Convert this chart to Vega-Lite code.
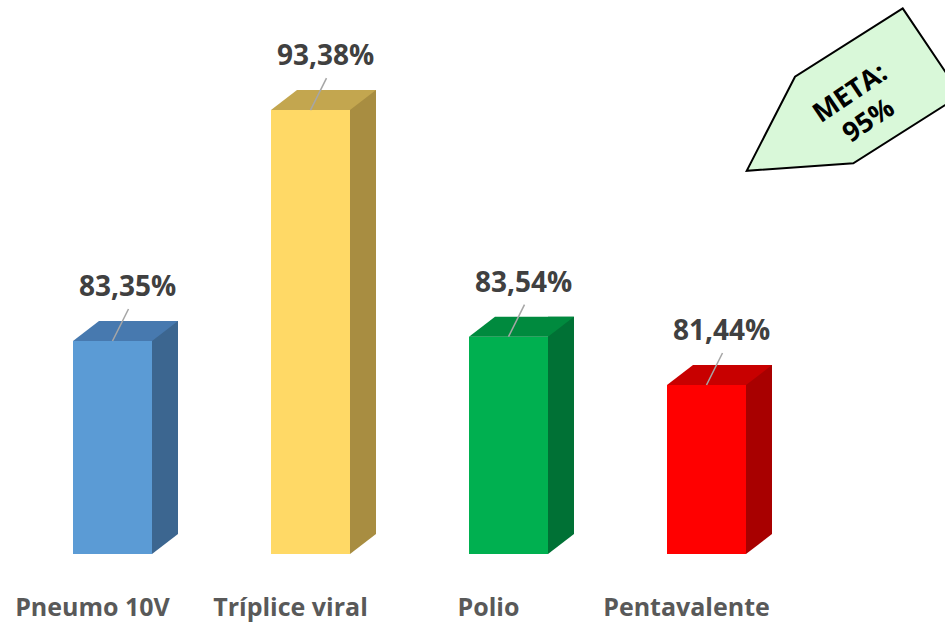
{
  "$schema": "https://vega.github.io/schema/vega-lite/v6.json",
  "width": 945,
  "height": 554,
  "autosize": "none",
  "padding": {"left": 0, "top": 0, "right": 0, "bottom": 68},
  "background": "white",
  "config": {
    "view": {"stroke": null},
    "locale": {"number": {"decimal": ",", "thousands": ".", "grouping": [3], "currency": ["R$", ""]}}
  },
  "datasets": {
    "vacinas": [
      {"vacina": "Pneumo 10V", "cobertura": 0.8335},
      {"vacina": "Tríplice viral", "cobertura": 0.9338},
      {"vacina": "Polio", "cobertura": 0.8354},
      {"vacina": "Pentavalente", "cobertura": 0.8144}
    ],
    "meta": [
      {"vacina": "META", "rotulo": "META:\n95%", "meta": 0.95}
    ]
  },
  "data": {"name": "vacinas"},
  "encoding": {
    "x": {
      "field": "vacina",
      "type": "nominal",
      "sort": null,
      "scale": {
        "domain": ["Pneumo 10V", "Tríplice viral", "Polio", "Pentavalente", "META"],
        "range": [13.5, 1003.5],
        "paddingInner": 0,
        "paddingOuter": 0
      },
      "axis": {
        "values": ["Pneumo 10V", "Tríplice viral", "Polio", "Pentavalente"],
        "title": null,
        "domain": false,
        "ticks": false,
        "grid": false,
        "labelAngle": 0,
        "labelOverlap": false,
        "labelFont": "Open Sans",
        "labelFontWeight": "bold",
        "labelFontSize": 25,
        "labelColor": "#595959",
        "labelOffset": -20,
        "labelPadding": 61,
        "labelBaseline": "alphabetic"
      }
    },
    "y": {
      "field": "cobertura",
      "type": "quantitative",
      "scale": {"domain": [0.741, 0.9816], "nice": false, "zero": false},
      "axis": null
    }
  },
  "layer": [
    {
      "mark": {"type": "bar", "width": 26, "xOffset": 52.5, "yOffset": -20, "y2Offset": -20},
      "encoding": {
        "y2": {"datum": 0.741},
        "fill": {
          "field": "vacina", "type": "nominal", "legend": null,
          "scale": {"domain": ["Pneumo 10V", "Tríplice viral", "Polio", "Pentavalente"], "range": ["#3C6690", "#A88D41", "#007135", "#A80000"]}
        }
      }
    },
    {
      "mark": {"type": "point", "shape": "M39.5,0 L65.5,-20 L65.5,-21 L39.5,-21 Z", "size": 4, "filled": true, "opacity": 1, "strokeWidth": 0},
      "encoding": {
        "y": {"datum": 0.741},
        "fill": {
          "field": "vacina", "type": "nominal", "legend": null,
          "scale": {"domain": ["Pneumo 10V", "Tríplice viral", "Polio", "Pentavalente"], "range": ["#3C6690", "#A88D41", "#007135", "#A80000"]}
        }
      }
    },
    {
      "mark": {"type": "bar", "width": 79},
      "encoding": {
        "y2": {"datum": 0.741},
        "fill": {
          "field": "vacina", "type": "nominal", "legend": null,
          "scale": {"domain": ["Pneumo 10V", "Tríplice viral", "Polio", "Pentavalente"], "range": ["#5B9BD5", "#FFD966", "#00B050", "#FF0000"]}
        }
      }
    },
    {
      "mark": {"type": "point", "shape": "M-39.5,0 L39.5,0 L65.5,-20 L-13.5,-20 Z", "size": 4, "filled": true, "opacity": 1, "strokeWidth": 0},
      "encoding": {
        "fill": {
          "field": "vacina", "type": "nominal", "legend": null,
          "scale": {"domain": ["Pneumo 10V", "Tríplice viral", "Polio", "Pentavalente"], "range": ["#4779AF", "#C3A64F", "#008A3E", "#C80000"]}
        }
      }
    },
    {
      "mark": {"type": "rule", "color": "#A6A6A6", "strokeWidth": 1.5, "x2Offset": 16, "y2Offset": -32},
      "encoding": {
        "x2": {"field": "vacina", "bandPosition": 0.5},
        "y2": {"field": "cobertura"}
      }
    },
    {
      "mark": {"type": "text", "font": "Open Sans", "fontWeight": "bold", "fontSize": 28, "color": "#404040", "align": "center", "baseline": "alphabetic", "xOffset": 15, "yOffset": -45},
      "encoding": {
        "text": {"field": "cobertura", "type": "quantitative", "format": ".2%"}
      }
    },
    {
      "data": {"name": "meta"},
      "mark": {"type": "point", "shape": "M-1.8,-64.4 L56.5,22.2 L-51.2,90.6 L-157.8,98 L-109.5,4 Z", "size": 4, "filled": true, "fill": "#D9F8D9", "stroke": "#000000", "strokeWidth": 2, "opacity": 1},
      "encoding": {
        "y": {"field": "meta", "type": "quantitative"}
      }
    },
    {
      "data": {"name": "meta"},
      "mark": {"type": "text", "angle": 326, "font": "Open Sans", "fontWeight": "bold", "fontSize": 27, "lineBreak": "\n", "lineHeight": 33, "align": "center", "baseline": "middle", "color": "#000000", "xOffset": -54, "yOffset": 21},
      "encoding": {
        "y": {"field": "meta", "type": "quantitative"},
        "text": {"field": "rotulo"}
      }
    }
  ],
  "resolve": {"scale": {"fill": "independent"}}
}
